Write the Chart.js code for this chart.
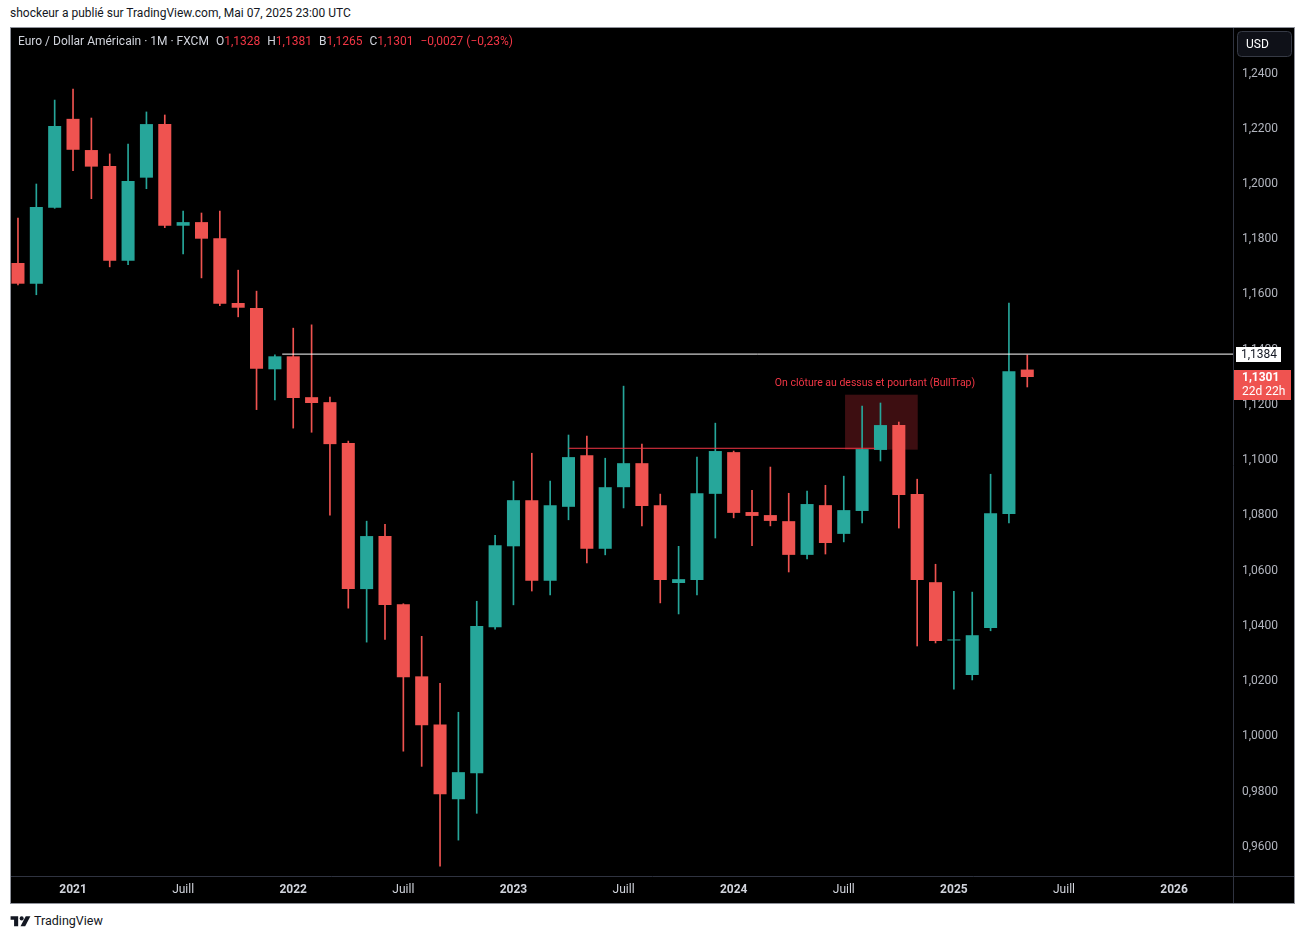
<!DOCTYPE html>
<html lang="fr">
<head>
<meta charset="utf-8">
<title>Euro / Dollar Américain · 1M</title>
<script src="https://cdn.jsdelivr.net/npm/chart.js@4.4.1/dist/chart.umd.min.js"></script>
<style>
    body { margin: 0; background: #fff; width: 1305px; height: 939px; position: relative; overflow: hidden;
           font-family: Roboto, "DejaVu Sans", sans-serif; }
    #byline { position: absolute; left: 10px; top: 6px; font-size: 12px; color: #131722; }
    #panel { position: absolute; left: 10px; top: 27px; width: 1283px; height: 875px; border: 1px solid #8f929b; background: #000; }
    #holder { position: absolute; left: 0; top: 0; width: 1283px; height: 875px; }
    #legend { position: absolute; left: 7px; top: 6px; font-size: 12px; color: #d1d4dc; white-space: nowrap; }
    #legend span { margin-left: 7px; }
    #legend b { font-weight: normal; color: #f23645; }
    #footer { position: absolute; left: 10px; top: 913px; font-size: 12.5px; color: #131722; display: flex; align-items: center; gap: 3px; }
</style>
</head>
<body>
<div id="byline">shockeur a publié sur TradingView.com, Mai 07, 2025 23:00 UTC</div>
<div id="panel">
    <div id="holder"><canvas id="chart-canvas"></canvas></div>
    <div id="legend">Euro / Dollar Américain · 1M · FXCM<span>O<b>1,1328</b></span><span>H<b>1,1381</b></span><span>B<b>1,1265</b></span><span>C<b>1,1301</b></span><span><b>−0,0027 (−0,23%)</b></span></div>
</div>
<div id="footer">
    <svg width="21" height="12" viewBox="0 0 36 20"><path d="M14 2H1v6h6v11h7V2z" fill="#131722"/><circle cx="20" cy="5.5" r="3.5" fill="#131722"/><path d="M27 2h8L26 19h-8z" fill="#131722"/></svg>
    <span>TradingView</span>
</div>
<script>
/* ----- D A T A (monthly candles, Oct 2020 -> May 2025) ----- */

const MONTHS = [
    "2020-10", "2020-11", "2020-12",
    "2021-01", "2021-02", "2021-03", "2021-04", "2021-05", "2021-06", "2021-07", "2021-08", "2021-09", "2021-10", "2021-11", "2021-12",
    "2022-01", "2022-02", "2022-03", "2022-04", "2022-05", "2022-06", "2022-07", "2022-08", "2022-09", "2022-10", "2022-11", "2022-12",
    "2023-01", "2023-02", "2023-03", "2023-04", "2023-05", "2023-06", "2023-07", "2023-08", "2023-09", "2023-10", "2023-11", "2023-12",
    "2024-01", "2024-02", "2024-03", "2024-04", "2024-05", "2024-06", "2024-07", "2024-08", "2024-09", "2024-10", "2024-11", "2024-12",
    "2025-01", "2025-02", "2025-03", "2025-04", "2025-05"
];

const OPEN = [
    1.1714, 1.1639, 1.1914,
    1.2236, 1.2123, 1.2065, 1.1722, 1.2023, 1.2217, 1.1849, 1.1862, 1.1804, 1.1569, 1.1551, 1.1329,
    1.1376, 1.1228, 1.1210, 1.1062, 1.0533, 1.0725, 1.0478, 1.0217, 1.0043, 0.9772, 0.9866, 1.0395,
    1.0688, 1.0855, 1.0563, 1.0831, 1.1018, 1.0679, 1.0902, 1.0989, 1.0837, 1.0555, 1.0566, 1.0878,
    1.1029, 1.0812, 1.0801, 1.0779, 1.0657, 1.0837, 1.0733, 1.0816, 1.1037, 1.1127, 1.0877, 1.0558,
    1.0347, 1.0222, 1.0392, 1.0805, 1.1328
];

const HIGH = [
    1.1877, 1.2000, 1.2304,
    1.2344, 1.2239, 1.2109, 1.2145, 1.2261, 1.2250, 1.1902, 1.1895, 1.1902, 1.1688, 1.1612, 1.1381,
    1.1478, 1.1490, 1.1228, 1.1069, 1.0779, 1.0768, 1.0480, 1.0362, 1.0192, 1.0087, 1.0489, 1.0728,
    1.0924, 1.1025, 1.0924, 1.1091, 1.1087, 1.1007, 1.1268, 1.1058, 1.0877, 1.0688, 1.1011, 1.1134,
    1.1033, 1.0891, 1.0975, 1.0880, 1.0888, 1.0909, 1.0942, 1.1196, 1.1207, 1.1138, 1.0931, 1.0623,
    1.0525, 1.0522, 1.0949, 1.1569, 1.1381
];

const LOW = [
    1.1635, 1.1599, 1.1912,
    1.2048, 1.1947, 1.1700, 1.1708, 1.1983, 1.1842, 1.1747, 1.1660, 1.1559, 1.1519, 1.1183, 1.1218,
    1.1116, 1.1101, 1.0801, 1.0464, 1.0341, 1.0351, 0.9946, 0.9891, 0.9530, 0.9624, 0.9721, 1.0388,
    1.0476, 1.0526, 1.0512, 1.0784, 1.0628, 1.0657, 1.0827, 1.0762, 1.0483, 1.0443, 1.0512, 1.0718,
    1.0791, 1.0690, 1.0762, 1.0595, 1.0642, 1.0660, 1.0704, 1.0773, 1.0997, 1.0754, 1.0327, 1.0338,
    1.0171, 1.0204, 1.0382, 1.0773, 1.1265
];

const CLOSE = [
    1.1639, 1.1917, 1.2210,
    1.2124, 1.2063, 1.1722, 1.2011, 1.2217, 1.1849, 1.1862, 1.1802, 1.1566, 1.1552, 1.1331, 1.1376,
    1.1225, 1.1207, 1.1058, 1.0533, 1.0725, 1.0475, 1.0214, 1.0040, 0.9790, 0.9870, 1.0399, 1.0692,
    1.0855, 1.0563, 1.0837, 1.1011, 1.0679, 1.0902, 1.0989, 1.0834, 1.0566, 1.0569, 1.0880, 1.1033,
    1.0809, 1.0798, 1.0780, 1.0657, 1.0841, 1.0700, 1.0819, 1.1040, 1.1127, 1.0874, 1.0566, 1.0345,
    1.0349, 1.0366, 1.0808, 1.1322, 1.1301
];

// time axis: positions are month indexes (0 = Oct 2020)
const TICK_POS = [3, 9, 15, 21, 27, 33, 39, 45, 51, 57, 63];
const TICK_LABELS = ["2021", "Juill", "2022", "Juill", "2023", "Juill", "2024", "Juill", "2025", "Juill", "2026"];
const Y_TICKS = [0.96, 0.98, 1.00, 1.02, 1.04, 1.06, 1.08, 1.10, 1.12, 1.14, 1.16, 1.18, 1.20, 1.22, 1.24];

// drawings on the chart
const MARK_PRICE = 1.1384, MARK_FROM = 14.4;                    // white horizontal ray
const LEVEL_PRICE = 1.1043, LEVEL_FROM = 30, LEVEL_TO = 46.7;     // red resistance line
const BOX_X = [45.07, 49.03], BOX_Y = [1.1038, 1.1237];           // bull trap zone
const NOTE_TEXT = "On clôture au dessus et pourtant (BullTrap)", NOTE_X = 46.7, NOTE_Y = 1.1277;
const COUNTDOWN = "22d 22h";

/* ----- S E T T I N G S ----- */

const
    X_MIN = -0.38, X_MAX = 66.21,
    Y_MIN = 0.9494, Y_MAX = 1.2565,
    UP = "#26a69a", DOWN = "#ef5350",
    SEP = "#2f3340",
    fmt = v => v.toFixed(4).replace(".", ",");

Chart.defaults.font.family = "Roboto, 'DejaVu Sans', sans-serif";

const candleColors = CLOSE.map((c, i) => c >= OPEN[i] ? UP : DOWN);
const bodies = OPEN.map((o, i) => ({ x: i, y: [o, CLOSE[i]] }));
const wicks = LOW.map((l, i) => ({ x: i, y: [l, HIGH[i]] }));

const panelDecor = {
    id: "panelDecor",
    beforeDraw(chart) {
        const c = chart.ctx;
        c.save();
        c.fillStyle = "#000";
        c.fillRect(0, 0, chart.width, chart.height);
        c.restore();
    },
    beforeDatasetsDraw(chart) {
        const c = chart.ctx, sx = chart.scales.x, sy = chart.scales.y;
        const x0 = sx.getPixelForValue(BOX_X[0]), x1 = sx.getPixelForValue(BOX_X[1]);
        const y0 = sy.getPixelForValue(BOX_Y[1]), y1 = sy.getPixelForValue(BOX_Y[0]);
        c.save();
        c.fillStyle = "rgba(242, 54, 69, 0.25)";
        c.fillRect(x0, y0, x1 - x0, y1 - y0);
        c.restore();
    },
    afterDraw(chart) {
        const c = chart.ctx, sx = chart.scales.x, sy = chart.scales.y, a = chart.chartArea;
        c.save();

        // separators between plot, price axis and time axis
        c.strokeStyle = SEP;
        c.lineWidth = 1;
        c.beginPath();
        c.moveTo(a.right + 0.5, 0); c.lineTo(a.right + 0.5, chart.height);
        c.moveTo(0, a.bottom + 0.5); c.lineTo(chart.width, a.bottom + 0.5);
        c.stroke();

        // annotation text
        c.font = "10.5px Roboto, sans-serif";
        c.fillStyle = "#f23645";
        c.textAlign = "center";
        c.textBaseline = "middle";
        c.fillText(NOTE_TEXT, sx.getPixelForValue(NOTE_X), sy.getPixelForValue(NOTE_Y));

        // white ray label
        const ym = Math.round(sy.getPixelForValue(MARK_PRICE));
        c.fillStyle = "#fff";
        c.fillRect(a.right + 3, ym - 7, 45, 15);
        c.fillStyle = "#131722";
        c.textAlign = "left";
        c.font = "12px Roboto, sans-serif";
        c.fillText(fmt(MARK_PRICE), a.right + 8, ym + 1);

        // last price label
        const last = CLOSE[CLOSE.length - 1];
        const yl = Math.round(sy.getPixelForValue(last));
        c.fillStyle = candleColors[candleColors.length - 1];
        c.fillRect(a.right + 1, yl - 7, 57, 30);
        c.fillStyle = "#fff";
        c.font = "bold 12px Roboto, sans-serif";
        c.fillText(fmt(last), a.right + 9, yl + 1);
        c.font = "12px Roboto, sans-serif";
        c.fillText(COUNTDOWN, a.right + 9, yl + 15);

        // currency button
        c.fillStyle = "#0f1118";
        c.strokeStyle = "#363a45";
        c.beginPath();
        c.roundRect(a.right + 4.5, 3.5, 54, 25, 4);
        c.fill();
        c.stroke();
        c.fillStyle = "#fff";
        c.font = "12px Roboto, sans-serif";
        c.fillText("USD", a.right + 13, 17);

        c.restore();
    }
};

const config = {
    type: "bar",
    data: {
        datasets: [
            {
                type: "line",
                label: "Résistance",
                data: [{ x: LEVEL_FROM, y: LEVEL_PRICE }, { x: LEVEL_TO, y: LEVEL_PRICE }],
                borderColor: "#f23645",
                borderWidth: 1,
                pointRadius: 0,
                order: 0
            },
            {
                type: "line",
                label: "Ligne",
                data: [{ x: MARK_FROM, y: MARK_PRICE }, { x: X_MAX, y: MARK_PRICE }],
                borderColor: "#ffffff",
                borderWidth: 1,
                pointRadius: 0,
                order: 0
            },
            {
                label: "Corps",
                data: bodies,
                backgroundColor: candleColors,
                categoryPercentage: 1,
                barPercentage: 0.71,
                minBarLength: 1,
                grouped: false,
                order: 1
            },
            {
                label: "Mèches",
                data: wicks,
                backgroundColor: candleColors,
                barThickness: 1,
                grouped: false,
                order: 2
            }
        ]
    },
    options: {
        responsive: true,
        maintainAspectRatio: false,
        animation: false,
        layout: { padding: 0 },
        plugins: {
            legend: { display: false },
            tooltip: { enabled: false }
        },
        scales: {
            x: {
                type: "linear",
                min: X_MIN,
                max: X_MAX,
                offset: false,
                grid: { display: false, drawTicks: false },
                border: { display: false },
                afterBuildTicks: s => { s.ticks = TICK_POS.map(v => ({ value: v })); },
                afterFit: s => { s.height = 27; s.paddingLeft = 0; s.paddingRight = 0; },
                ticks: {
                    autoSkip: false,
                    maxRotation: 0,
                    padding: 7,
                    color: "#d1d4dc",
                    font: ctx => ({ size: 12, weight: /^\d/.test(TICK_LABELS[ctx.index] || "") ? "bold" : "normal" }),
                    callback: (v, i) => TICK_LABELS[i]
                }
            },
            y: {
                position: "right",
                min: Y_MIN,
                max: Y_MAX,
                grid: { display: false, drawTicks: false },
                border: { display: false },
                afterBuildTicks: s => { s.ticks = Y_TICKS.map(v => ({ value: v })); },
                afterFit: s => { s.width = 61; s.paddingTop = 0; s.paddingBottom = 0; },
                ticks: {
                    padding: 9,
                    color: "#b2b5be",
                    font: { size: 12 },
                    callback: v => fmt(v)
                }
            }
        }
    },
    plugins: [panelDecor]
};

const ctx = document.getElementById("chart-canvas");
window.eurusdChart = new Chart(ctx, config);
</script>
</body>
</html>
